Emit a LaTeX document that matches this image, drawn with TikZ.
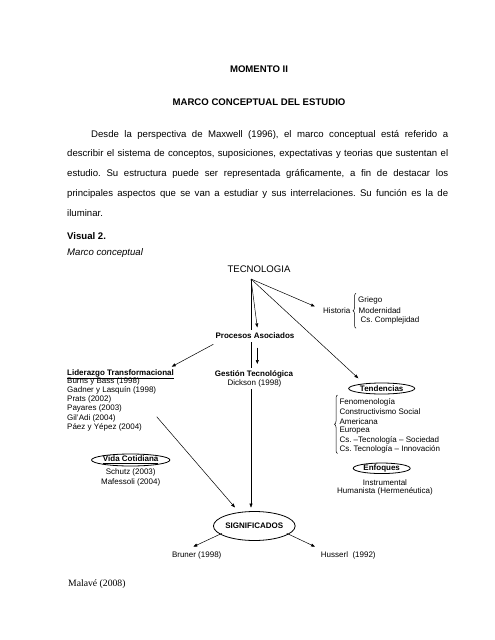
\documentclass[tikz,border=0pt]{standalone}
\usepackage{fontspec}
\setmainfont{Liberation Sans}
\newfontfamily\timesfont{Liberation Serif}
\usetikzlibrary{arrows.meta,shapes.geometric,decorations.pathreplacing}
\pgfdeclarelayer{bg}
\pgfsetlayers{bg,main}
\frenchspacing
\begin{document}
\frenchspacing
\begin{tikzpicture}[x=1pt,y=-1pt,
  body/.style={font=\fontsize{9.6}{11}\selectfont, inner sep=0pt},
  bodyb/.style={font=\fontsize{9.6}{11}\selectfont\bfseries, inner sep=0pt},
  dg/.style={font=\fontsize{8}{9}\selectfont, inner sep=0pt},
  dgb/.style={font=\fontsize{8}{9}\selectfont\bfseries, inner sep=0pt},
  wh/.style={fill=white, inner xsep=1pt, inner ysep=3pt},
  oval/.style={ellipse, draw, line width=0.8pt, inner sep=0pt, font=\fontsize{8}{9}\selectfont\bfseries},
  arr/.style={-{Triangle[length=4pt,width=3pt]}, line width=0.5pt},
  bracestyle/.style={decorate, decoration={brace, amplitude=3pt}, line width=0.5pt}
]
\useasboundingbox (0,0) rectangle (495,640);
\begin{pgfonlayer}{bg}
\fill[white] (0,0) rectangle (495,640);
\end{pgfonlayer}

% header
\node[bodyb] (t1) at (259,69) {MOMENTO II};
\node[bodyb] (t2) at (259,102) {MARCO CONCEPTUAL DEL ESTUDIO};
\node[body, anchor=west] (p1) at (91,135) {\makebox[357pt][s]{Desde la perspectiva de Maxwell (1996), el marco conceptual está referido a}};
\node[body, anchor=west] (p2) at (67,154.5) {\makebox[381pt][s]{describir el sistema de conceptos, suposiciones, expectativas y teorias que sustentan el}};
\node[body, anchor=west] (p3) at (67,174) {\makebox[381pt][s]{estudio. Su estructura puede ser representada gráficamente, a fin de destacar los}};
\node[body, anchor=west] (p4) at (67,193.5) {\makebox[381pt][s]{principales aspectos que se van a estudiar y sus interrelaciones. Su función es la de}};
\node[body, anchor=west] (p5) at (67,213) {iluminar.};
\node[bodyb, anchor=west] (vis) at (67,236) {Visual 2.};
\node[body, anchor=west, font=\fontsize{9.6}{11}\selectfont\itshape] (mc) at (67,253) {Marco conceptual};

% diagram
\node[body] (tec) at (259,269) {TECNOLOGIA};
\coordinate (apex) at (251,279);

\node[dg, anchor=west] (hist) at (323,310.7) {Historia};
\node[dg, anchor=west] (gri) at (358,300.7) {Griego};
\node[dg, anchor=west] (mod) at (358.5,310.5) {Modernidad};
\node[dg, anchor=west] (csc) at (360.5,320) {Cs. Complejidad};

\node[dgb, wh] (proc) at (255,336) {Procesos Asociados};

\node[dgb, anchor=west] (lid) at (67,374) {\underline{Liderazgo Transformacional}};
\node[dg, anchor=west] (l1) at (67,381) {Burns y Bass (1998)};
\node[dg, anchor=west] (l2) at (67,390.3) {Gadner y Lasquín (1998)};
\node[dg, anchor=west] (l3) at (67,399.6) {Prats (2002)};
\node[dg, anchor=west] (l4) at (67,408.9) {Payares (2003)};
\node[dg, anchor=west] (l5) at (67,418.2) {Gil'Adi (2004)};
\node[dg, anchor=west] (l6) at (67,427.5) {Páez y Yépez (2004)};

\node[dgb, wh, inner ysep=2pt] (gest) at (254,374) {Gestión Tecnológica};
\node[dg, wh, inner ysep=2pt] (dick) at (254.5,383.6) {Dickson (1998)};

\node[oval, minimum width=66pt, minimum height=11pt] (tend) at (381.7,388.5) {Tendencias};
\node[dg, anchor=west] (e1) at (339.3,402.7) {Fenomenología};
\node[dg, anchor=west] (e2) at (339.3,412) {Constructivismo Social};
\node[dg, anchor=west] (e3) at (339.3,421.3) {Americana};
\node[dg, anchor=west] (e4) at (339.3,430.6) {Europea};
\node[dg, anchor=west] (e5) at (339.3,440) {Cs. --Tecnología -- Sociedad};
\node[dg, anchor=west] (e6) at (339.3,449.3) {Cs. Tecnología -- Innovación};

\node[oval, minimum width=57pt, minimum height=10.5pt] (enf) at (381.7,468.3) {Enfoques};
\node[dg] (ins) at (385,482.7) {Instrumental};
\node[dg] (hum) at (385,491.8) {Humanista (Hermenéutica)};

\node[oval, minimum width=67pt, minimum height=12pt] (vida) at (130.7,460) {\underline{Vida Cotidiana}};
\node[dg] (sch) at (130.7,472.8) {Schutz (2003)};
\node[dg] (maf) at (130.7,482.2) {Mafessoli (2004)};

\node[oval, minimum width=65pt, minimum height=29pt] (sig) at (254.3,526) {SIGNIFICADOS};
\node[dg] (bru) at (196.7,555) {Bruner (1998)};
\node[dg] (hus) at (348.3,555) {Husserl\ \ (1992)};

\node[font=\fontsize{9.7}{11}\selectfont\timesfont, inner sep=0pt, anchor=west] (mal) at (68,584) {Malavé (2008)};

% connector ends
\coordinate (histtip) at (315,306.5);
\coordinate (proctip) at (257.3,327.5);
\coordinate (tendtip) at (358.3,378.3);
\coordinate (pgA) at (257.3,347.5);
\coordinate (pgB) at (257.3,364);
\coordinate (plA) at (213.3,344.3);
\coordinate (plB) at (171.7,366.7);
\coordinate (lsA) at (156.7,416.7);
\coordinate (lsB) at (235,507.5);
\coordinate (sbA) at (222,533.3);
\coordinate (sbB) at (193.3,546.7);
\coordinate (shA) at (286.7,533.3);
\coordinate (shB) at (315,546.7);

\begin{pgfonlayer}{bg}
\draw[arr] (apex) -- (histtip);
\draw[arr] (apex) -- (proctip);
\draw[arr] (apex) -- (tendtip);
\draw[arr, shorten >=3.5pt] (apex) -- (apex |- sig.north);
\draw[arr] (pgA) -- (pgB);
\draw[arr] (plA) -- (plB);
\draw[arr] (lsA) -- (lsB);
\draw[arr] (sbA) -- (sbB);
\draw[arr] (shA) -- (shB);
\draw[bracestyle] (356,328.3) -- (356,293.3);
\draw[bracestyle] (337.5,453.5) -- (337.5,395);
\end{pgfonlayer}
\end{tikzpicture}
\end{document}
